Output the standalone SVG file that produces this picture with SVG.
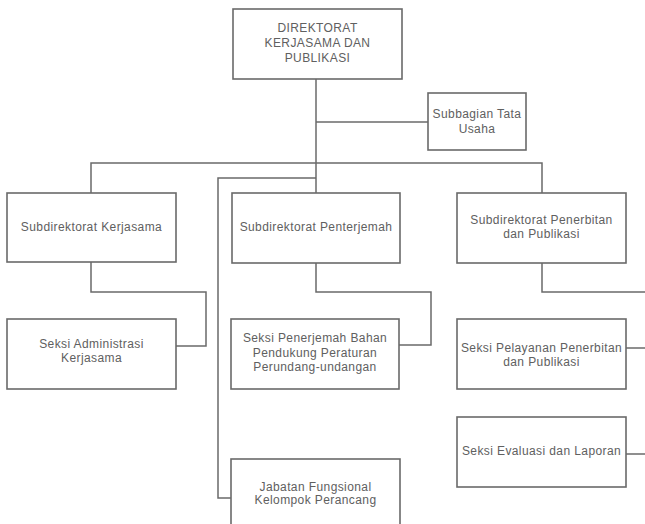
<svg xmlns="http://www.w3.org/2000/svg" width="645" height="524" viewBox="0 0 645 524">
<style>
.box{fill:#fff;stroke:#6a6a6a;stroke-width:1.6}
.ln{fill:none;stroke:#6a6a6a;stroke-width:1.5}
text{font-family:"Liberation Sans",Arial,sans-serif;font-size:12px;fill:#606060;text-anchor:middle;letter-spacing:0.4px}
</style>
<rect width="645" height="524" fill="#fff"/>
<g id="connectors">
<path class="ln" d="M316,79 V193"/>
<path class="ln" d="M316,122 H428"/>
<path class="ln" d="M91,193 V163 H542 V193"/>
<path class="ln" d="M316,178 H218 V498 H231"/>
<path class="ln" d="M91,262 V292 H206 V346 H176"/>
<path class="ln" d="M316,263 V292 H431 V345 H399"/>
<path class="ln" d="M542,263 V292 H648"/>
<path class="ln" d="M626,348 H648"/>
<path class="ln" d="M626,454 H648"/>
</g>
<g id="direktorat">
<rect class="box" x="233" y="9" width="169" height="70"/>
<text x="317.5" y="32">DIREKTORAT</text>
<text x="317.5" y="47">KERJASAMA DAN</text>
<text x="317.5" y="62">PUBLIKASI</text>
</g>
<g id="subbagian">
<rect class="box" x="428" y="93" width="98" height="57"/>
<text x="477" y="118">Subbagian Tata</text>
<text x="477" y="133">Usaha</text>
</g>
<g id="subdit-kerjasama">
<rect class="box" x="7" y="193" width="169" height="69"/>
<text x="91.5" y="231">Subdirektorat Kerjasama</text>
</g>
<g id="subdit-penterjemah">
<rect class="box" x="232" y="193" width="168" height="70"/>
<text x="316" y="231">Subdirektorat Penterjemah</text>
</g>
<g id="subdit-penerbitan">
<rect class="box" x="457" y="193" width="169" height="70"/>
<text x="541.5" y="224">Subdirektorat Penerbitan</text>
<text x="541.5" y="238">dan Publikasi</text>
</g>
<g id="seksi-administrasi">
<rect class="box" x="7" y="319" width="169" height="70"/>
<text x="91.5" y="348">Seksi Administrasi</text>
<text x="91.5" y="362">Kerjasama</text>
</g>
<g id="seksi-penerjemah">
<rect class="box" x="231" y="319" width="168" height="70"/>
<text x="315" y="342">Seksi Penerjemah Bahan</text>
<text x="315" y="356.5">Pendukung Peraturan</text>
<text x="315" y="371">Perundang-undangan</text>
</g>
<g id="seksi-pelayanan">
<rect class="box" x="457" y="319" width="169" height="70"/>
<text x="541.5" y="352">Seksi Pelayanan Penerbitan</text>
<text x="541.5" y="366">dan Publikasi</text>
</g>
<g id="seksi-evaluasi">
<rect class="box" x="457" y="417" width="169" height="70"/>
<text x="541.5" y="455">Seksi Evaluasi dan Laporan</text>
</g>
<g id="jabatan-fungsional">
<rect class="box" x="231" y="459" width="169" height="70"/>
<text x="315.5" y="491">Jabatan Fungsional</text>
<text x="315.5" y="504">Kelompok Perancang</text>
</g>
</svg>
